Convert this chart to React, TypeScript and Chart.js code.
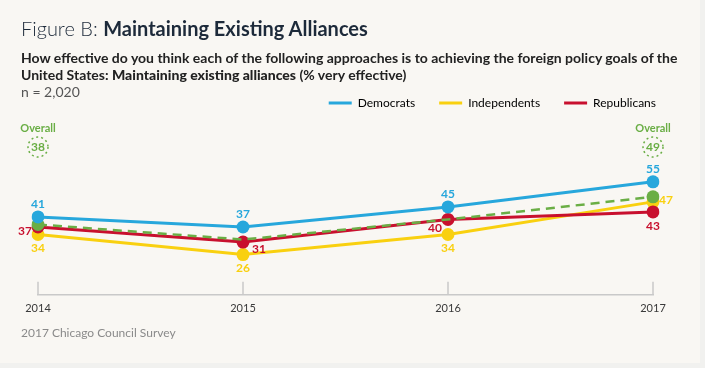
import React, { useEffect, useRef } from "react";
import { Chart, registerables } from "chart.js";
Chart.register(...registerables);

const years = ["2014", "2015", "2016", "2017"];
const democrats = [41, 37, 45, 55];
const independents = [34, 26, 34, 47];
const republicans = [37, 31, 40, 43];
const overall = [38, 32, 40, 49];
const seriesNames = ["Democrats", "Independents", "Republicans", "Overall"];

const demLabelPlace = ["above", "above", "above", "above"];
const indLabelPlace = ["below", "below", "below", "right"];
const repLabelPlace = ["left", "belowRight", "belowLeft", "below"];

const COLORS = ["#27a7dc", "#f9d00f", "#c8102e", "#6aae45"];
const FONT = "Lato";

const placeOffsets: Record<string, { dx: number; dy: number; align: CanvasTextAlign }> = {
  above: { dx: 0, dy: -13, align: "center" },
  below: { dx: 0, dy: 14, align: "center" },
  left: { dx: -6, dy: 4, align: "right" },
  right: { dx: 6, dy: -2, align: "left" },
  belowRight: { dx: 9, dy: 7, align: "left" },
  belowLeft: { dx: -6, dy: 9, align: "right" },
};

const tickMarks = {
  id: "tickMarks",
  beforeDatasetsDraw(chart: any) {
    const { ctx, chartArea, scales } = chart;
    const x = scales.x;
    ctx.save();
    ctx.strokeStyle = "#c9c9c9";
    ctx.lineWidth = 1.5;
    years.forEach((_, i) => {
      const px = x.getPixelForValue(i);
      ctx.beginPath();
      ctx.moveTo(px, chartArea.bottom - 13);
      ctx.lineTo(px, chartArea.bottom);
      ctx.stroke();
    });
    ctx.restore();
  },
};

const valueLabels = {
  id: "valueLabels",
  afterDatasetsDraw(chart: any) {
    const { ctx, chartArea } = chart;
    const places = [demLabelPlace, indLabelPlace, repLabelPlace];
    ctx.save();
    ctx.font = `bold 12px ${FONT}`;
    ctx.textBaseline = "middle";
    places.forEach((pl, di) => {
      const meta = chart.getDatasetMeta(di);
      meta.data.forEach((pt: any, i: number) => {
        const o = placeOffsets[pl[i]];
        ctx.fillStyle = COLORS[di];
        ctx.textAlign = o.align;
        ctx.fillText(String(chart.data.datasets[di].data[i]), pt.x + o.dx, pt.y + o.dy);
      });
    });
    const x = chart.scales.x;
    [0, overall.length - 1].forEach((i) => {
      const px = x.getPixelForValue(i);
      ctx.fillStyle = COLORS[3];
      ctx.textAlign = "center";
      ctx.font = `bold 11px ${FONT}`;
      ctx.fillText("Overall", px, chartArea.top + 9);
      ctx.beginPath();
      ctx.setLineDash([2, 3]);
      ctx.lineWidth = 1.5;
      ctx.strokeStyle = COLORS[3];
      ctx.arc(px, chartArea.top + 28, 10, 0, Math.PI * 2);
      ctx.stroke();
      ctx.setLineDash([]);
      ctx.font = `bold 12px ${FONT}`;
      ctx.fillText(String(overall[i]), px, chartArea.top + 28);
    });
    ctx.restore();
  },
};

export default function App() {
  const ref = useRef<HTMLCanvasElement>(null);
  useEffect(() => {
    if (!ref.current) return;
    Chart.defaults.font.family = FONT;
    const seriesData = [democrats, independents, republicans, overall];
    const orders = [0, 3, 2, 1];
    const chart = new Chart(ref.current, {
      type: "line",
      data: {
        labels: years,
        datasets: seriesData.map((d, i) => ({
          label: seriesNames[i],
          data: d,
          borderColor: COLORS[i],
          backgroundColor: COLORS[i],
          borderWidth: i === 3 ? 2.5 : 3,
          borderDash: i === 3 ? [9, 6] : [],
          pointRadius: i === 3 ? d.map((_, j) => (j === 0 || j === d.length - 1 ? 6.5 : 0)) : 6.5,
          pointHoverRadius: 6.5,
          pointBorderWidth: 0,
          tension: 0,
          order: orders[i],
          yAxisID: "y",
        })),
      },
      options: {
        responsive: false,
        animation: false,
        layout: { padding: { top: 73, left: 38, right: 25, bottom: 46 } },
        plugins: {
          tooltip: { enabled: false },
          legend: {
            position: "top",
            align: "end",
            labels: {
              boxWidth: 23,
              boxHeight: 3,
              padding: 24,
              color: "#444",
              font: { family: FONT, size: 12 },
              generateLabels: (chart: any) =>
                chart.data.datasets
                  .map((ds: any, i: number) => ({
                    text: ds.label,
                    fillStyle: ds.borderColor,
                    strokeStyle: ds.borderColor,
                    lineWidth: 0,
                    datasetIndex: i,
                    hidden: false,
                  }))
                  .filter((it: any) => it.datasetIndex !== 3),
            },
          },
        },
        scales: {
          x: {
            type: "category",
            offset: false,
            grid: { display: false, drawTicks: false },
            border: { display: true, color: "#c9c9c9", width: 1.5 },
            ticks: { color: "#3a3a3a", font: { family: FONT, size: 11 }, padding: 7, maxRotation: 0, autoSkip: false },
          },
          y: { display: false, min: 10, max: 80 },
          yPad: {
            position: "right",
            display: true,
            min: 0,
            max: 1,
            grid: { display: false },
            border: { display: false },
            ticks: { display: false },
            afterFit: (s: any) => {
              s.width = 27;
            },
          },
        },
      },
      plugins: [tickMarks, valueLabels],
    });
    return () => chart.destroy();
  }, []);

  return (
    <div style={{ position: "absolute", left: 0, top: 0, width: 705, height: 368, background: "#f1f1ef", overflow: "hidden" }}>
      <div style={{ position: "absolute", left: 0, top: 0, width: 700, height: 363, background: "#f9f7f3" }} />
      <canvas ref={ref} width={705} height={368} style={{ position: "absolute", left: 0, top: 0, width: 705, height: 368 }} />
      <div style={{ position: "absolute", left: 21, top: 17, fontFamily: FONT, fontSize: 20, lineHeight: "22px", color: "#1d2a3a", whiteSpace: "nowrap" }}>
        <span style={{ fontWeight: 300 }}>Figure B: </span>
        <span style={{ fontWeight: 700 }}>Maintaining Existing Alliances</span>
      </div>
      <div style={{ position: "absolute", left: 21, top: 49, fontFamily: FONT, fontSize: 14, lineHeight: "17px", color: "#222", whiteSpace: "nowrap" }}>
        <div style={{ fontWeight: 700 }}>How effective do you think each of the following approaches is to achieving the foreign policy goals of the</div>
        <div style={{ fontWeight: 700 }}>
          United States: <span style={{ fontWeight: 900 }}>Maintaining existing alliances</span> (% very effective)
        </div>
        <div style={{ fontWeight: 400, color: "#555" }}>n = 2,020</div>
      </div>
      <div style={{ position: "absolute", left: 21, top: 326, fontFamily: FONT, fontSize: 12, lineHeight: "14px", color: "#8a8a8a", whiteSpace: "nowrap" }}>
        2017 Chicago Council Survey
      </div>
    </div>
  );
}
